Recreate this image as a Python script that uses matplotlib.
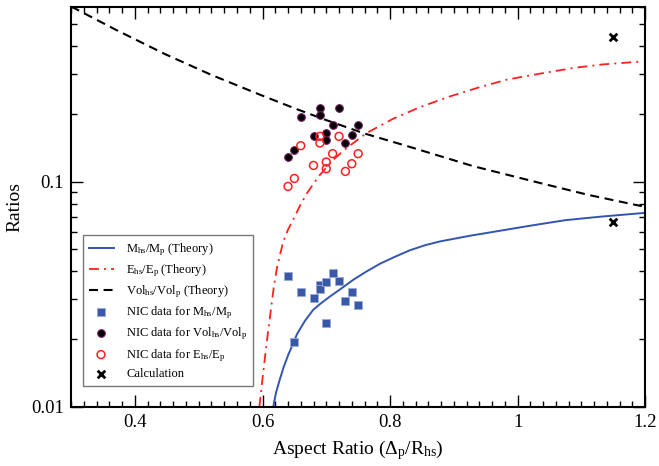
import numpy as np
import matplotlib
matplotlib.use('Agg')
import matplotlib.pyplot as plt
from matplotlib.ticker import FixedLocator, MultipleLocator, LogLocator, NullFormatter, FuncFormatter

plt.rcParams['font.family'] = 'Liberation Serif'
plt.rcParams['mathtext.fontset'] = 'custom'
plt.rcParams['mathtext.rm'] = 'Liberation Serif'
plt.rcParams['mathtext.it'] = 'Liberation Serif:italic'

# theory curves
vol_x = [0.30, 0.37, 0.447, 0.52, 0.596, 0.65, 0.698, 0.76, 0.828, 0.93, 1.035, 1.11, 1.197]
vol_y = [0.600, 0.473, 0.369, 0.298, 0.2435, 0.212, 0.1886, 0.1637, 0.1436, 0.1173,
         0.0987, 0.0875, 0.0776]

e_x = [0.5951, 0.5991, 0.6038, 0.6085, 0.6133, 0.6180, 0.6227, 0.6274, 0.6326, 0.6399,
       0.6482, 0.6587, 0.6693, 0.6875, 0.711, 0.732, 0.7634, 0.805, 0.847, 0.894, 0.938,
       0.983, 1.035, 1.0875, 1.1336, 1.197]
e_y = [0.0100, 0.01266, 0.01651, 0.02132, 0.02726, 0.03450, 0.04147, 0.04738, 0.05412,
       0.06118, 0.06779, 0.0782, 0.0885, 0.1052, 0.1253, 0.1412, 0.1646, 0.1905, 0.2144,
       0.2393, 0.2617, 0.2840, 0.3020, 0.3201, 0.3319, 0.3424]

m_x = [0.6169, 0.6211, 0.6274, 0.6336, 0.6404, 0.6478, 0.6540, 0.6666, 0.6796, 0.6917,
       0.7058, 0.7230, 0.7424, 0.7623, 0.7842, 0.8077, 0.8313, 0.8548, 0.8784, 0.9254,
       0.9725, 1.0195, 1.0744, 1.1293, 1.1973]
m_y = [0.0100, 0.01154, 0.01331, 0.01514, 0.01703, 0.01905, 0.02100, 0.02411, 0.02699,
       0.02884, 0.03091, 0.03346, 0.03668, 0.03981, 0.04320, 0.04642, 0.04961, 0.05222,
       0.05429, 0.05754, 0.06056, 0.06374, 0.06744, 0.06990, 0.07261]

# NIC data
nic_x = [0.64, 0.65, 0.66, 0.68, 0.69, 0.69, 0.70, 0.70, 0.71, 0.72, 0.73, 0.74, 0.75]
nic_m = [0.0382, 0.0195, 0.0323, 0.0304, 0.0346, 0.0335, 0.0358, 0.0236, 0.0393,
         0.0363, 0.0294, 0.0323, 0.0284]
nic_vol = [0.1288, 0.1388, 0.1931, 0.159, 0.2126, 0.1985, 0.1646, 0.1527, 0.1779,
           0.2126, 0.1486, 0.1618, 0.1792]
nic_e = [0.0953, 0.1034, 0.1445, 0.1181, 0.159, 0.1486, 0.1223, 0.1142, 0.1332,
         0.159, 0.1111, 0.1202, 0.1332]

# calculation
calc_x = [1.15, 1.15]
calc_y = [0.438, 0.0659]

fig = plt.figure(figsize=(6.59, 4.66), dpi=100)
ax = fig.add_axes([0.108, 0.127, 0.871, 0.859])

ax.plot(m_x, m_y, color='#3355b0', lw=1.4, label=r'M$_{\rm hs}$/M$_{\rm p}$ (Theory)')
ax.plot(e_x, e_y, color='#ff2020', lw=1.3, linestyle=(0, (5.5, 2.8, 1.1, 2.8)),
        label=r'E$_{\rm hs}$/E$_{\rm p}$ (Theory)')
ax.plot(vol_x, vol_y, color='black', lw=1.5, linestyle=(0, (4.3, 2.7)),
        label=r'Vol$_{\rm hs}$/Vol$_{\rm p}$ (Theory)')
ax.scatter(nic_x, nic_m, marker='s', s=28, color='#3a58a8', edgecolors='#9aaad8',
           linewidths=0.6, label=r'NIC data for M$_{\rm hs}$/M$_{\rm p}$', zorder=3)
ax.scatter(nic_x, nic_vol, marker='o', s=30, color='black', edgecolors='#6a1a5a',
           linewidths=0.8, label=r'NIC data for Vol$_{\rm hs}$/Vol$_{\rm p}$', zorder=3)
ax.scatter(nic_x, nic_e, marker='o', s=32, facecolors='none', edgecolors='#ff2020',
           linewidths=1.1, label=r'NIC data for E$_{\rm hs}$/E$_{\rm p}$', zorder=3)
ax.scatter(calc_x, calc_y, marker='x', s=30, color='black', linewidths=2,
           label='Calculation', zorder=3)

ax.set_yscale('log')
ax.set_xlim(0.3, 1.2)
ax.set_ylim(0.01, 0.6)

ax.xaxis.set_major_locator(FixedLocator([0.4, 0.6, 0.8, 1.0, 1.2]))
ax.xaxis.set_minor_locator(MultipleLocator(0.02))
ax.xaxis.set_major_formatter(FuncFormatter(lambda v, p: '%g' % v))
ax.yaxis.set_major_locator(FixedLocator([0.01, 0.1]))
ax.yaxis.set_major_formatter(FuncFormatter(lambda v, p: '%g' % v))
ax.yaxis.set_minor_locator(LogLocator(base=10, subs=np.arange(2, 10)))
ax.yaxis.set_minor_formatter(NullFormatter())

ax.tick_params(which='both', direction='in', top=True, right=True, labelsize=13.5, width=1)
ax.tick_params(which='major', length=8.5, pad=5)
ax.tick_params(which='minor', length=4.5)
for sp in ax.spines.values():
    sp.set_linewidth(1.5)

ax.set_xlabel(r'Aspect Ratio ($\Delta_{\rm p}$/R$_{\rm hs}$)', fontsize=14, labelpad=5)
ax.set_ylabel('Ratios', fontsize=14, labelpad=6)

leg = ax.legend(loc='lower left', bbox_to_anchor=(0.0204, 0.0525), borderaxespad=0,
                fontsize=9, frameon=True, fancybox=False, edgecolor='#555555',
                labelspacing=0.36, handlelength=2.0, borderpad=0.45, handletextpad=1.0)
leg.get_frame().set_linewidth(1.0)

fig.savefig('out.png', dpi=100)
